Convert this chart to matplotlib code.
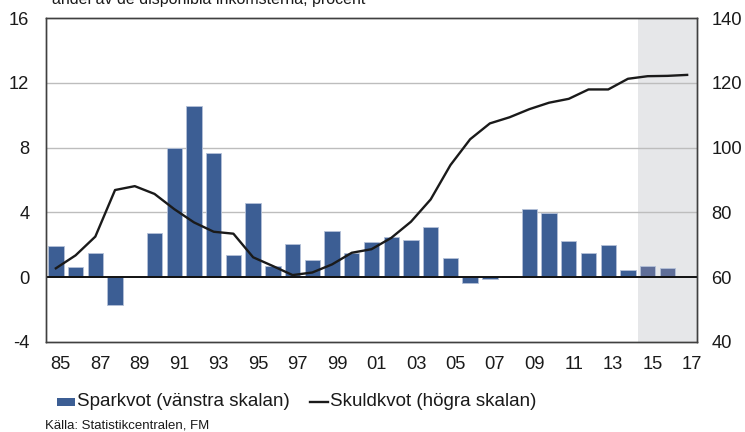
import matplotlib
matplotlib.use("Agg")
import matplotlib.pyplot as plt
import matplotlib.transforms as mtransforms
from matplotlib.patches import Rectangle
from matplotlib.lines import Line2D

plt.rcParams['font.family'] = ['Liberation Sans', 'DejaVu Sans']
plt.rcParams['axes.unicode_minus'] = False

years = list(range(1985, 2018))
sparkvot = [1.9, 0.62, 1.5, -1.73, 0.0, 2.7, 8.0, 10.6, 7.65, 1.36, 4.6, 0.68, 2.06, 1.03,
            2.82, 1.46, 2.14, 2.49, 2.28, 3.1, 1.15, -0.35, -0.1, 0.05, 4.18, 3.97, 2.2,
            1.48, 2.0, 0.41, 0.68, 0.53, 0.0]
skuldkvot = [62.7, 66.7, 72.5, 86.9, 88.1, 85.7, 81.0, 76.9, 74.0, 73.4, 66.1, 63.4, 60.6,
             61.4, 63.9, 67.5, 68.6, 72.1, 77.1, 84.0, 94.6, 102.6, 107.5, 109.4, 111.9,
             113.9, 115.1, 118.0, 118.0, 121.3, 122.1, 122.2, 122.5]
forecast_start = 2015
xtick_years = list(range(1985, 2018, 2))
xtick_labels = [f"{y % 100:02d}" for y in xtick_years]
left_ticks = [-4, 0, 4, 8, 12, 16]
right_ticks = [40, 60, 80, 100, 120, 140]

title = "andel av de disponibla inkomsterna, procent"
legend_bar = "Sparkvot (vänstra skalan)"
legend_line = "Skuldkvot (högra skalan)"
source = "Källa: Statistikcentralen, FM"

W, H = 745, 432
fig = plt.figure(figsize=(W / 100, H / 100), dpi=100)
ax = fig.add_axes([46 / W, 1 - 341.7 / H, (697 - 46) / W, (341.7 - 18.3) / H])
ax2 = ax.twinx()

bar_main = '#3c5e94'
bar_fc = '#5f6e98'
colors = [bar_fc if y >= forecast_start else bar_main for y in years]

ax.axvspan(forecast_start - 0.5, years[-1] + 0.5, color='#e6e7e9', zorder=0, lw=0)
for yv in [4, 8, 12]:
    ax.axhline(yv, color='#bdbdbd', lw=1.0, zorder=1)
ax.bar(years, sparkvot, width=0.78, color=colors, edgecolor='#b4c1d8', linewidth=0.6, zorder=2)
ax.axhline(0, color='#111111', lw=1.4, zorder=3)

ax2.plot(years, skuldkvot, color='#1a1a1a', lw=1.7, zorder=5)

ax.set_xlim(1984.5, 2017.5)
ax.set_ylim(-4, 16)
ax2.set_ylim(40, 140)
ax.set_yticks(left_ticks)
ax2.set_yticks(right_ticks)
ax.set_xticks(xtick_years)
ax.set_xticklabels(xtick_labels)

ax2.patch.set_visible(False)
ax2.set_zorder(1)
ax.set_zorder(0)

for a in (ax, ax2):
    for s in a.spines.values():
        s.set_color('#404040')
        s.set_linewidth(1.0)
    a.tick_params(length=0, labelsize=13.2, labelcolor='#1a1a1a')

ax.tick_params(axis='y', pad=12)
ax2.tick_params(axis='y', pad=10.5)
ax.tick_params(axis='x', pad=10)
offset = mtransforms.ScaledTranslation(5 / 100, 0, fig.dpi_scale_trans)
for lbl in ax.get_xticklabels():
    lbl.set_transform(lbl.get_transform() + offset)

fig.text(52 / W, 1 - 4 / H, title, fontsize=11.5, va='baseline', ha='left', color='#1a1a1a')

# legend
ly = 1 - 402 / H
fig.add_artist(Rectangle((57 / W, 1 - 406 / H), 18 / W, 8 / H, transform=fig.transFigure,
                         facecolor=bar_main, edgecolor='none'))
fig.text(77 / W, ly, legend_bar, fontsize=13.5, va='center', ha='left', color='#1a1a1a')
fig.add_artist(Line2D([310 / W, 328 / W], [ly, ly], transform=fig.transFigure,
                      color='#1a1a1a', lw=1.7))
fig.text(330 / W, ly, legend_line, fontsize=13.5, va='center', ha='left', color='#1a1a1a')
fig.text(45 / W, 1 - 425 / H, source, fontsize=9.5, va='center', ha='left', color='#1a1a1a')

fig.savefig('out.png', dpi=100)
